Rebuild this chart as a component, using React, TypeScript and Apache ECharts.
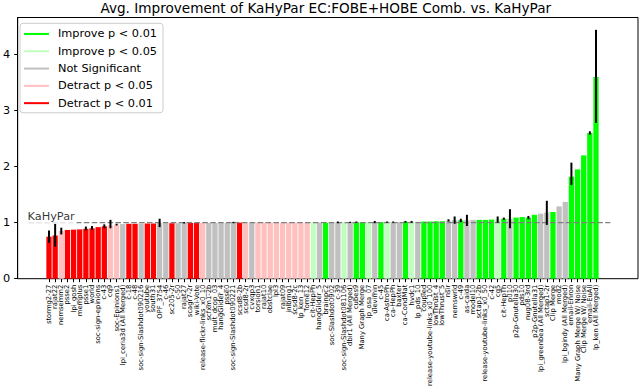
import React, { useEffect, useRef } from "react";
import * as echarts from "echarts";

const titleText = "Avg. Improvement of KaHyPar EC:FOBE+HOBE Comb. vs. KaHyPar";

const categories = [
  "stormg2-27", "rajat22", "nemsemm2", "psse2", "lpi_gosh", "memplus", "psse1", "world",
  "soc-sign-epinions", "c-43", "cq9", "soc-Epinions1", "lpi_ceria3d (All Merged)", "c-18", "c-48",
  "soc-sign-Slashdot090216", "youtube", "south31", "OPF_3754", "c-46", "sc205-2r", "c-50", "rajat27",
  "scagr7-2r", "wiki-Vote", "release-flickr-links_x0_10", "scfxm1-2b", "mult_dcop_03", "hangGlider_4",
  "psse0", "soc-sign-Slashdot090221", "scsd8-2b", "scsd8-2r", "cvxqp3", "torsion1", "rajat10",
  "obstclae", "lpl3", "rajat09", "jnlbrng1", "scsd8-2c", "lp_ken_13", "fome12", "cit-HepPh",
  "hangGlider_5", "brainpc2", "soc-Slashdot0902", "c-39", "soc-sign-Slashdot081106", "dbir1 (All Merged)",
  "cubes9", "Many Graph Merge", "lp_osa_07", "ulevimin", "c-45", "ca-AstroPh", "ca-HepPh", "baxter",
  "ca-CondMat", "hvdc1", "lp_pds_10", "coupled", "release-youtube-links_x0_100", "lowThrust_4",
  "lowThrust_5", "nsir", "nemswrld", "c-49", "as-caida", "model10", "sctap1-2b",
  "release-youtube-links_x0_50", "c-42", "cq5", "cit-HepTh", "p010", "p2p-Gnutella30", "pds10",
  "nug08-3rd", "p2p-Gnutella31", "lpi_greenbea (All Merged)", "sctap1-2r", "Clip Merge", "mod2",
  "lpi_bgindy (All Merged)", "email-Enron", "Many Graph Merge W/ Noise", "Clip Merge W/ Noise",
  "email-EuAll", "lp_ken (All Merged)",
];

const values = [
  0.75, 0.77, 0.85, 0.87, 0.875, 0.88, 0.89, 0.9, 0.92, 0.935,
  0.955, 0.965, 0.975, 0.98, 0.98, 0.985, 0.985, 0.985, 0.99, 0.99,
  0.99, 0.99, 0.995, 0.995, 0.995, 0.995, 0.995, 0.995, 0.995, 0.995,
  1.0, 1.0, 1.0, 1.0, 1.0, 1.0, 1.0, 1.0, 1.0, 1.0,
  1.0, 1.0, 1.0, 1.0, 1.0, 1.0, 1.0, 1.005, 1.005, 1.005,
  1.01, 1.01, 1.01, 1.01, 1.01, 1.01, 1.01, 1.01, 1.015, 1.015,
  1.015, 1.02, 1.02, 1.025, 1.025, 1.035, 1.045, 1.04, 1.045, 1.05,
  1.05, 1.05, 1.055, 1.06, 1.07, 1.07, 1.09, 1.1, 1.09, 1.14,
  1.16, 1.18, 1.19, 1.29, 1.37, 1.82, 1.95, 2.2, 2.6, 3.6,
];

// I1 = improve p<0.01, I5 = improve p<0.05, NS = not significant, D5 = detract p<0.05, D1 = detract p<0.01
const significance = [
  "D1", "D1", "D5", "D1", "D1", "D1", "D1", "D1", "D1", "D1",
  "D5", "D5", "NS", "D1", "D1", "NS", "D1", "D1", "NS", "NS",
  "D1", "NS", "NS", "D1", "D1", "D5", "NS", "NS", "NS", "NS",
  "NS", "D1", "D5", "NS", "D5", "D5", "D5", "D5", "D5", "D5",
  "D5", "D5", "D5", "I5", "NS", "I1", "NS", "NS", "I5", "NS",
  "I1", "I1", "I5", "NS", "I1", "I5", "NS", "NS", "I1", "I5",
  "NS", "I1", "I1", "I1", "I1", "NS", "NS", "I1", "NS", "NS",
  "I1", "I1", "I1", "I5", "I1", "NS", "I1", "I1", "I1", "I1",
  "NS", "NS", "I1", "NS", "NS", "I1", "I1", "I1", "I1", "I1",
];

const groupKeys = ["I1", "I5", "NS", "D5", "D1"];
const groupNames = ["Improve p < 0.01", "Improve p < 0.05", "Not Significant", "Detract p < 0.05", "Detract p < 0.01"];

// error bars: bar number (1-based), low, high
const errBar = [1, 2, 3, 7, 8, 10, 11, 12, 19, 23, 31, 48, 50, 51, 54, 56, 57, 59, 60, 66, 67, 68, 69, 74, 75, 76, 79, 82, 86, 89, 90];
const errLow = [0.64, 0.57, 0.79, 0.86, 0.87, 0.9, 0.9, 0.95, 0.92, 0.985, 0.99, 0.99, 0.995, 1.0, 0.99, 1.0, 1.0, 1.0, 1.0, 1.02, 0.98, 1.01, 0.94, 1.0, 1.05, 0.9, 1.06, 0.96, 1.67, 2.57, 2.78];
const errHigh = [0.86, 0.98, 0.91, 0.93, 0.94, 0.97, 1.05, 0.98, 1.07, 1.01, 1.015, 1.02, 1.015, 1.02, 1.03, 1.02, 1.02, 1.03, 1.03, 1.06, 1.11, 1.07, 1.14, 1.11, 1.09, 1.24, 1.12, 1.39, 2.07, 2.63, 4.44];

const yTicks = [0, 1, 2, 3, 4];
const yMax = 4.66;
const refValue = 1;
const refSpan = [-4, 91.3];
const refLabel = "KaHyPar";

const FONT = "DejaVu Sans";
const groupColors: Record<string, string> = {
  I1: "#00ff00",
  I5: "#c0ffc0",
  NS: "#c0c0c0",
  D5: "#ffc0c0",
  D1: "#ff0000",
};

export default function App() {
  const ref = useRef<HTMLDivElement>(null);
  useEffect(() => {
    if (!ref.current) return;
    const chart = echarts.init(ref.current, null, { renderer: "svg" });

    const frameLeft = 13.5, frameRight = 638, frameTop = 17.5, frameBottom = 278.7;
    const pitch = 6.146, firstCenter = 49;
    const n = categories.length;
    const barsLeft = firstCenter - pitch / 2;
    const barsRight = barsLeft + pitch * n;
    const xMin = (frameLeft - firstCenter) / pitch;
    const xMax = (frameRight - firstCenter) / pitch;

    const barSeries = groupKeys.map((k, gi) => ({
      type: "bar",
      name: groupNames[gi],
      xAxisIndex: 1,
      yAxisIndex: 1,
      barWidth: 5.3,
      barGap: "-100%",
      itemStyle: { color: groupColors[k] },
      data: values.map((v, i) => (significance[i] === k ? v : "-")),
      z: 2,
    }));

    chart.setOption({
      animation: false,
      graphic: [
        {
          type: "text",
          x: (frameLeft + frameRight) / 2,
          y: 8,
          style: {
            text: titleText,
            fontFamily: FONT,
            fontSize: 13.6,
            fill: "#000",
            align: "center",
            verticalAlign: "middle",
          },
        },
      ],
      grid: [
        {
          left: frameLeft,
          right: 640 - frameRight,
          top: frameTop,
          bottom: 391 - frameBottom,
          show: true,
          borderColor: "#000",
          borderWidth: 1,
          backgroundColor: "transparent",
        },
        {
          left: barsLeft,
          right: 640 - barsRight,
          top: frameTop,
          bottom: 391 - frameBottom,
        },
      ],
      legend: {
        orient: "vertical",
        left: 20,
        top: 23.3,
        data: groupNames,
        icon: "rect",
        itemWidth: 25,
        itemHeight: 2,
        itemGap: 4,
        padding: [4, 6, 3, 4],
        backgroundColor: "rgba(255,255,255,0.8)",
        borderColor: "#cccccc",
        borderWidth: 1,
        borderRadius: 3,
        textStyle: {
          fontFamily: FONT,
          fontSize: 11.3,
          color: "#000",
          lineHeight: 13.3,
          padding: [0, 0, 0, 4],
        },
      },
      xAxis: [
        {
          type: "value",
          gridIndex: 0,
          min: xMin,
          max: xMax,
          show: false,
          axisLine: { onZero: false },
        },
        {
          type: "category",
          gridIndex: 1,
          data: categories,
          boundaryGap: true,
          axisLine: { show: false, onZero: false },
          axisTick: { show: true, alignWithLabel: true, interval: 0, length: 3.5, lineStyle: { color: "#000", width: 1 } },
          axisLabel: {
            interval: 0,
            rotate: 90,
            fontSize: 6.8,
            fontFamily: FONT,
            color: "#000",
            margin: 6,
          },
          splitLine: { show: false },
        },
      ],
      yAxis: [
        {
          type: "value",
          gridIndex: 0,
          min: 0,
          max: yMax,
          axisLine: { show: true, onZero: false, lineStyle: { color: "#000", width: 1 } },
          axisTick: { show: true, length: 3.5, lineStyle: { color: "#000" }, customValues: yTicks },
          axisLabel: { fontFamily: FONT, fontSize: 11.3, color: "#000", margin: 7.5, customValues: yTicks },
          splitLine: { show: false },
        },
        { type: "value", gridIndex: 1, min: 0, max: yMax, show: false, axisLine: { show: false, onZero: false } },
      ],
      series: [
        ...barSeries,
        {
          type: "custom",
          name: "err",
          xAxisIndex: 1,
          yAxisIndex: 1,
          z: 5,
          encode: { x: 0, y: [1, 2] },
          data: errBar.map((b, j) => [b - 1, errLow[j], errHigh[j]]),
          renderItem: (params: any, api: any) => {
            const x = api.value(0);
            const lo = api.coord([x, api.value(1)]);
            const hi = api.coord([x, api.value(2)]);
            return {
              type: "line",
              shape: { x1: lo[0], y1: lo[1], x2: hi[0], y2: hi[1] },
              style: { stroke: "#000", lineWidth: 2 },
            };
          },
        },
        {
          type: "line",
          name: "ref",
          xAxisIndex: 0,
          yAxisIndex: 0,
          symbol: "none",
          z: 4,
          lineStyle: { color: "#808080", width: 1.4, type: [5.5, 2.4] },
          data: [
            [refSpan[0], refValue],
            [refSpan[1], refValue],
          ],
        },
        {
          type: "scatter",
          name: "refLabel",
          xAxisIndex: 0,
          yAxisIndex: 0,
          symbolSize: 0,
          z: 6,
          itemStyle: { color: "transparent" },
          label: {
            show: true,
            formatter: refLabel,
            position: [-1, -12],
            fontFamily: FONT,
            fontSize: 11.3,
            color: "#000",
            backgroundColor: "#fff",
            padding: [0, 2, 2, 0],
          },
          data: [[refSpan[0], refValue]],
        },
      ],
    });
    return () => chart.dispose();
  }, []);
  return <div ref={ref} style={{ position: "absolute", left: 0, top: 0, width: 640, height: 391 }} />;
}
